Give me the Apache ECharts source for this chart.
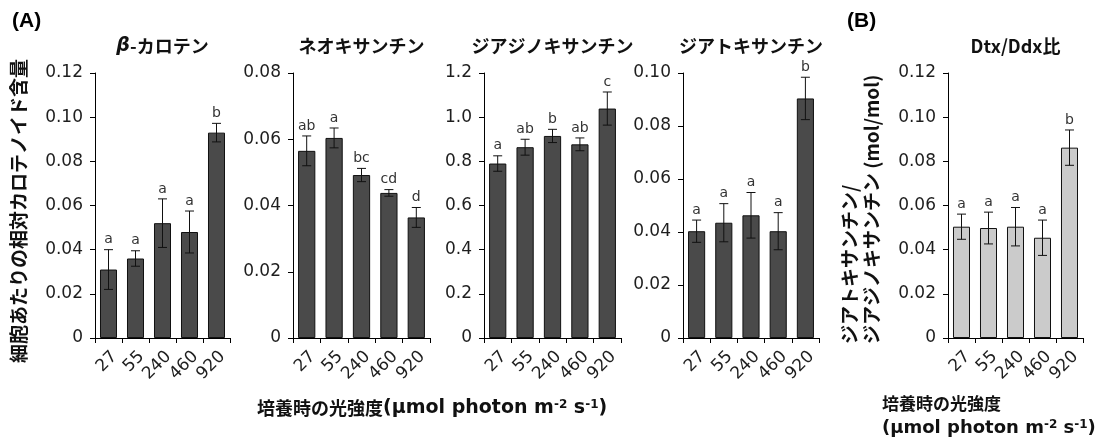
<!DOCTYPE html>
<html>
<head>
<meta charset="utf-8">
<script src="https://cdn.jsdelivr.net/npm/echarts@6/dist/echarts.min.js"></script>
<style>
html,body{margin:0;padding:0;background:#fff;}
#chart{width:1105px;height:439px;}
</style>
</head>
<body>
<div id="chart"></div>
<script>
// ---- data ----
const categories = ['27', '55', '240', '460', '920'];

const betaCarotene = [0.031, 0.036, 0.052, 0.048, 0.093];
const betaCaroteneErr = [0.009, 0.0035, 0.011, 0.0095, 0.0042];
const betaCaroteneLetters = ['a', 'a', 'a', 'a', 'b'];

const neoxanthin = [0.0565, 0.0604, 0.0492, 0.0438, 0.0364];
const neoxanthinErr = [0.0045, 0.003, 0.002, 0.001, 0.003];
const neoxanthinLetters = ['ab', 'a', 'bc', 'cd', 'd'];

const diadinoxanthin = [0.79, 0.864, 0.915, 0.877, 1.039];
const diadinoxanthinErr = [0.035, 0.036, 0.03, 0.029, 0.075];
const diadinoxanthinLetters = ['a', 'ab', 'b', 'ab', 'c'];

const diatoxanthin = [0.0403, 0.0435, 0.0463, 0.0403, 0.0904];
const diatoxanthinErr = [0.0042, 0.0072, 0.0086, 0.007, 0.008];
const diatoxanthinLetters = ['a', 'a', 'a', 'a', 'b'];

const dtxDdxRatio = [0.0504, 0.0498, 0.0504, 0.0454, 0.0862];
const dtxDdxRatioErr = [0.0057, 0.0072, 0.0087, 0.008, 0.008];
const dtxDdxRatioLetters = ['a', 'a', 'a', 'a', 'b'];

const panelTitles = ['β-カロテン', 'ネオキサンチン', 'ジアジノキサンチン', 'ジアトキサンチン', 'Dtx/Ddx比'];
const yMax = [0.12, 0.08, 1.2, 0.10, 0.12];
const yInterval = [0.02, 0.02, 0.2, 0.02, 0.02];
const yDecimals = [2, 2, 1, 2, 2];

const yAxisTitleA = '細胞あたりの相対カロテノイド含量';
const yAxisTitleB1 = 'ジアトキサンチン/';
const yAxisTitleB2 = 'ジアジノキサンチン (mol/mol)';
const xAxisTitleMain = '培養時の光強度';
const xUnitParts = ['(µmol photon m', '-2', ' s', '-1', ')'];

// ---- layout ----
const panels = [
  { vals: betaCarotene, errs: betaCaroteneErr, letters: betaCaroteneLetters, left: 95, width: 135, color: '#4a4a4a' },
  { vals: neoxanthin, errs: neoxanthinErr, letters: neoxanthinLetters, left: 293, width: 137, color: '#4a4a4a' },
  { vals: diadinoxanthin, errs: diadinoxanthinErr, letters: diadinoxanthinLetters, left: 484, width: 137, color: '#4a4a4a' },
  { vals: diatoxanthin, errs: diatoxanthinErr, letters: diatoxanthinLetters, left: 683, width: 136, color: '#4a4a4a' },
  { vals: dtxDdxRatio, errs: dtxDdxRatioErr, letters: dtxDdxRatioLetters, left: 948, width: 135, color: '#cbcbcb' }
];
const gridTop = 73, gridHeight = 265;
const numFont = 'DejaVu Sans';
const jpFont = '"Noto Sans CJK JP", sans-serif';

const grid = [], xAxis = [], yAxis = [], series = [], graphic = [];

panels.forEach((p, k) => {
  grid.push({ left: p.left, top: gridTop, width: p.width, height: gridHeight, containLabel: false });
  xAxis.push({
    type: 'category', gridIndex: k, data: categories, boundaryGap: true,
    axisLine: { lineStyle: { color: '#000', width: 1 } },
    axisTick: { show: true, alignWithLabel: false, length: 5, lineStyle: { color: '#000' } },
    axisLabel: { rotate: 45, fontFamily: numFont, fontSize: 17, color: '#1e1e1e', margin: 10,
      interval: 0, verticalAlign: 'top', align: 'right' }
  });
  const dec = yDecimals[k];
  yAxis.push({
    type: 'value', gridIndex: k, min: 0, max: yMax[k], interval: yInterval[k],
    splitLine: { show: false },
    axisLine: { show: true, lineStyle: { color: '#000', width: 1 } },
    axisTick: { show: true, length: 5, lineStyle: { color: '#000' } },
    axisLabel: { fontFamily: numFont, fontSize: 17, color: '#1e1e1e', margin: 12,
      formatter: v => (v === 0 ? '0' : v.toFixed(dec)) }
  });
  series.push({
    type: 'bar', xAxisIndex: k, yAxisIndex: k, data: p.vals, barWidth: '63%',
    itemStyle: { color: p.color, borderColor: '#111', borderWidth: 1 },
    silent: true, animation: false
  });
  const errs = p.errs, letters = p.letters;
  series.push({
    type: 'custom', xAxisIndex: k, yAxisIndex: k,
    data: p.vals.map((v, i) => [i, v]),
    animation: false, silent: true, z: 10,
    renderItem: function (params, api) {
      const i = params.dataIndex;
      const v = api.value(1);
      const e = errs[i];
      const top = api.coord([i, v + e]);
      const bot = api.coord([i, v - e]);
      const cx = top[0], hw = 4.5;
      const st = { stroke: '#111', lineWidth: 1 };
      return {
        type: 'group',
        children: [
          { type: 'line', shape: { x1: cx, y1: top[1], x2: cx, y2: bot[1] }, style: st },
          { type: 'line', shape: { x1: cx - hw, y1: top[1], x2: cx + hw, y2: top[1] }, style: st },
          { type: 'line', shape: { x1: cx - hw, y1: bot[1], x2: cx + hw, y2: bot[1] }, style: st },
          { type: 'text', style: { x: cx, y: top[1] - 3, text: letters[i], align: 'center', verticalAlign: 'bottom',
            font: '14px "DejaVu Sans"', fill: '#333' } }
        ]
      };
    }
  });
  // panel title (β in italic)
  const t = panelTitles[k].replace('β', '{it|β}');
  graphic.push({
    type: 'text', x: p.left + p.width / 2, y: 46,
    style: { text: t, align: 'center', verticalAlign: 'middle',
      font: 'bold 18px ' + jpFont, fill: '#111',
      rich: { it: { fontStyle: 'italic', fontWeight: 'bold', fontSize: 19, fontFamily: 'DejaVu Sans' } } }
  });
});

const unitRich = '{lat|' + xUnitParts[0] + '}{sup|' + xUnitParts[1] + '}{lat|' + xUnitParts[2] + '}{sup|' + xUnitParts[3] + '}{lat|' + xUnitParts[4] + '}';
function richStyle(latSize, supSize) {
  return {
    jp: { fontFamily: 'Noto Sans CJK JP', fontWeight: 'bold', fontSize: 18, fill: '#111' },
    lat: { fontFamily: 'DejaVu Sans', fontWeight: 'bold', fontSize: latSize, fill: '#111' },
    sup: { fontFamily: 'DejaVu Sans', fontWeight: 'bold', fontSize: supSize, fill: '#111', verticalAlign: 'top' }
  };
}

graphic.push(
  { type: 'text', x: 12, y: 21, style: { text: '(A)', align: 'left', verticalAlign: 'middle', font: 'bold 21px "Liberation Sans", sans-serif', fill: '#000' } },
  { type: 'text', x: 847, y: 21, style: { text: '(B)', align: 'left', verticalAlign: 'middle', font: 'bold 21px "Liberation Sans", sans-serif', fill: '#000' } },
  { type: 'text', x: 19, y: 211, rotation: Math.PI / 2,
    style: { text: yAxisTitleA, align: 'center', verticalAlign: 'middle', font: 'bold 19px ' + jpFont, fill: '#111' } },
  { type: 'text', x: 850, y: 344, rotation: Math.PI / 2,
    style: { text: yAxisTitleB1, align: 'left', verticalAlign: 'middle', font: 'bold 19px ' + jpFont, fill: '#111' } },
  { type: 'text', x: 872, y: 344, rotation: Math.PI / 2,
    style: { text: yAxisTitleB2, align: 'left', verticalAlign: 'middle', font: 'bold 19px ' + jpFont, fill: '#111' } },
  { type: 'text', x: 257, y: 408,
    style: { text: '{jp|' + xAxisTitleMain + '}' + unitRich, align: 'left', verticalAlign: 'middle',
      rich: richStyle(19, 12) } },
  { type: 'text', x: 882, y: 404,
    style: { text: xAxisTitleMain, align: 'left', verticalAlign: 'middle', font: 'bold 17px ' + jpFont, fill: '#111' } },
  { type: 'text', x: 882, y: 428,
    style: { text: unitRich, align: 'left', verticalAlign: 'middle', rich: richStyle(18, 12) } }
);

const chart = echarts.init(document.getElementById('chart'), null, { renderer: 'canvas' });
chart.setOption({
  backgroundColor: '#fff',
  animation: false,
  grid, xAxis, yAxis, series, graphic
});
</script>
</body>
</html>
